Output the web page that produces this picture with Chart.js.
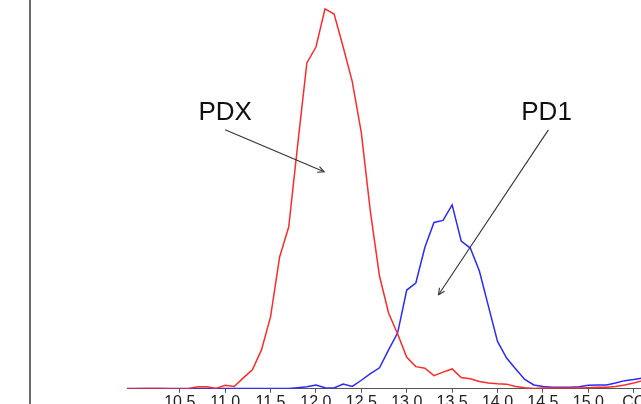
<!DOCTYPE html>
<html>
<head>
<meta charset="utf-8">
<script src="https://cdn.jsdelivr.net/npm/chart.js@4.4.1/dist/chart.umd.min.js"></script>
<style>
    html, body { margin: 0; padding: 0; background: #fff; overflow: hidden; }
    #wrap { position: absolute; left: 0; top: 0; width: 700px; height: 412px; }
    #frameLine { position: absolute; left: 29px; top: 0; width: 2px; height: 404px; background: #6b6b6b; }
</style>
</head>
<body>
<div id="frameLine"></div>
<div id="wrap"><canvas id="traceChart"></canvas></div>
<script>
// elution position of each fraction
const elution = [
    9.9, 10.0, 10.1, 10.2, 10.3, 10.4, 10.5, 10.6, 10.7, 10.8, 10.9,
    11.0, 11.1, 11.2, 11.3, 11.4, 11.5, 11.6, 11.7, 11.8, 11.9,
    12.0, 12.1, 12.2, 12.3, 12.4, 12.5, 12.6, 12.7, 12.8, 12.9,
    13.0, 13.1, 13.2, 13.3, 13.4, 13.5, 13.6, 13.7, 13.8, 13.9,
    14.0, 14.1, 14.2, 14.3, 14.4, 14.5, 14.6, 14.7, 14.8, 14.9,
    15.0, 15.1, 15.2, 15.3, 15.4, 15.5, 15.6
];

const pdxTrace = [
    0, 0, 0.1, 0.1, 0.1, 0, 0, 0.1, 0.5, 0.5, 0.1,
    0.9, 0.6, 2.8, 4.9, 10.0, 18.5, 33.9, 41.6, 63.0, 83.8,
    87.9, 97.7, 96.4, 87.9, 79.0, 65.8, 45.5, 29.0, 19.5, 14.1,
    8.1, 5.7, 5.3, 3.4, 4.3, 5.1, 2.9, 2.6, 1.9, 1.5,
    1.3, 1.2, 0.6, 0.3, 0.1, 0.2, 0.2, 0.2, 0.2, 0.2,
    0.3, 0.4, 0.4, 0.6, 1.0, 1.5, 2.1
];

const pd1Trace = [
    0.1, 0.1, 0.1, 0.1, 0.1, 0.1, 0.1, 0.1, 0.1, 0.1, 0.1,
    0.1, 0.1, 0.1, 0.1, 0.1, 0.1, 0.1, 0.1, 0.3, 0.5,
    1.0, 0.3, 0.2, 1.2, 0.6, 2.2, 3.9, 5.4, 10.0, 14.4,
    25.4, 27.2, 36.4, 42.8, 43.3, 47.3, 38.0, 36.2, 30.3, 21.2,
    12.2, 7.9, 5.1, 2.4, 1.0, 0.6, 0.4, 0.4, 0.4, 0.5,
    0.9, 1.0, 1.0, 1.5, 2.1, 2.4, 2.8
];

const tickValues = [10.5, 11.0, 11.5, 12.0, 12.5, 13.0, 13.5, 14.0, 14.5, 15.0, 15.5];
const tickLabels = ['10.5', '11.0', '11.5', '12.0', '12.5', '13.0', '13.5', '14.0', '14.5', '15.0', 'CC'];

// peak labels and their arrows, in data units
const peakNotes = [
    { text: 'PDX', x: 11.0, y: 69.2, fromX: 11.0, fromY: 66.6, toX: 12.09, toY: 55.8 },
    { text: 'PD1', x: 14.54, y: 69.2, fromX: 14.56, fromY: 66.6, toX: 13.35, toY: 24.2 }
];

const pdxColor = '#ff2a2a';
const pd1Color = '#2a2aff';

function toPoints(xs, ys) {
    let out = [];
    for (let i = 0; i < xs.length; i++) {
        out.push({ x: xs[i], y: ys[i] });
    }
    return out;
}

const notePlugin = {
    id: 'peakNotes',
    afterDatasetsDraw(chart) {
        const ctx = chart.ctx;
        const xs = chart.scales.x;
        const ys = chart.scales.y;
        ctx.save();
        ctx.font = '26px "Liberation Sans", Arial, sans-serif';
        ctx.fillStyle = '#111';
        ctx.textAlign = 'center';
        ctx.textBaseline = 'alphabetic';
        ctx.strokeStyle = '#333';
        ctx.lineWidth = 1.1;
        for (const n of peakNotes) {
            ctx.fillText(n.text, xs.getPixelForValue(n.x), ys.getPixelForValue(n.y));
            const x0 = xs.getPixelForValue(n.fromX), y0 = ys.getPixelForValue(n.fromY);
            const x1 = xs.getPixelForValue(n.toX), y1 = ys.getPixelForValue(n.toY);
            ctx.beginPath();
            ctx.moveTo(x0, y0);
            ctx.lineTo(x1, y1);
            ctx.stroke();
            // open arrow head
            const ang = Math.atan2(y1 - y0, x1 - x0);
            const len = 7, spread = 0.45;
            ctx.beginPath();
            ctx.moveTo(x1 - len * Math.cos(ang - spread), y1 - len * Math.sin(ang - spread));
            ctx.lineTo(x1, y1);
            ctx.lineTo(x1 - len * Math.cos(ang + spread), y1 - len * Math.sin(ang + spread));
            ctx.stroke();
        }
        ctx.restore();
    }
};

const ctx = document.getElementById('traceChart').getContext('2d');
const traceChart = new Chart(ctx, {
    type: 'line',
    plugins: [notePlugin],
    data: {
        datasets: [
            {
                label: 'PDX',
                data: toPoints(elution, pdxTrace),
                borderColor: pdxColor,
                borderWidth: 1.5,
                pointRadius: 0,
                tension: 0
            },
            {
                label: 'PD1',
                data: toPoints(elution, pd1Trace),
                borderColor: pd1Color,
                borderWidth: 1.5,
                pointRadius: 0,
                tension: 0
            }
        ]
    },
    options: {
        responsive: true,
        maintainAspectRatio: false,
        animation: false,
        layout: { padding: { left: 127, top: 0, right: 0, bottom: 0 } },
        plugins: {
            legend: { display: false },
            tooltip: { enabled: false }
        },
        scales: {
            x: {
                type: 'linear',
                min: 9.919,
                max: 16.23,
                afterBuildTicks: (scale) => {
                    scale.ticks = tickValues.map(v => ({ value: v }));
                },
                grid: {
                    drawOnChartArea: false,
                    drawTicks: true,
                    tickLength: 4,
                    color: '#555'
                },
                border: { display: true, color: '#555', width: 1 },
                ticks: {
                    autoSkip: false,
                    maxRotation: 0,
                    padding: 0,
                    color: '#222',
                    font: { family: '"Liberation Sans", Arial, sans-serif', size: 16 },
                    callback: (value, index) => tickLabels[index]
                }
            },
            y: {
                display: false,
                min: 0,
                max: 100
            }
        }
    }
});
</script>
</body>
</html>
